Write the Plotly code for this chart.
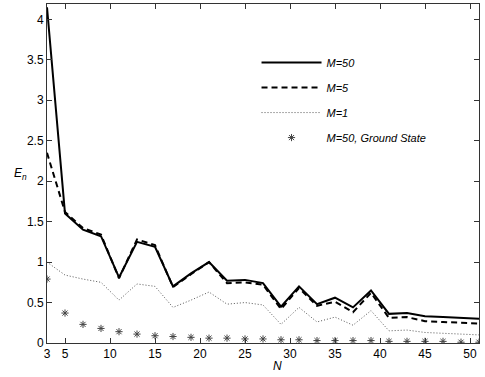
import plotly.graph_objects as go

N = [3, 5, 7, 9, 11, 13, 15, 17, 19, 21, 23, 25, 27, 29, 31, 33, 35, 37, 39, 41, 43, 45, 47, 49, 51]

E_M50 = [4.15, 1.60, 1.40, 1.32, 0.81, 1.25, 1.19, 0.70, 0.86, 1.00, 0.77, 0.78, 0.74, 0.45,
         0.70, 0.48, 0.56, 0.44, 0.65, 0.36, 0.37, 0.33, 0.32, 0.31, 0.30]
E_M5 = [2.35, 1.62, 1.42, 1.34, 0.80, 1.28, 1.21, 0.69, 0.85, 1.00, 0.74, 0.75, 0.72, 0.42,
        0.68, 0.46, 0.51, 0.38, 0.62, 0.31, 0.32, 0.27, 0.26, 0.25, 0.24]
E_M1 = [1.00, 0.84, 0.79, 0.75, 0.53, 0.73, 0.70, 0.44, 0.53, 0.63, 0.48, 0.50, 0.47, 0.23,
        0.44, 0.26, 0.32, 0.22, 0.40, 0.15, 0.16, 0.13, 0.12, 0.11, 0.10]
E_ground = [0.79, 0.37, 0.23, 0.18, 0.14, 0.11, 0.09, 0.08, 0.07, 0.06, 0.06, 0.05, 0.05, 0.04,
            0.04, 0.03, 0.03, 0.03, 0.03, 0.02, 0.02, 0.02, 0.02, 0.01, 0.01]

X_TICKS = [3, 5, 10, 15, 20, 25, 30, 35, 40, 45, 50]
Y_TICKS = [0, 0.5, 1, 1.5, 2, 2.5, 3, 3.5, 4]
Y_TICK_TEXT = ['0', '0.5', '1', '1.5', '2', '2.5', '3', '3.5', '4']

FONT = 'Liberation Sans, Arial, sans-serif'

fig = go.Figure()

fig.add_trace(go.Scatter(
    x=N, y=E_M50, name='<i>M=50</i>', mode='lines',
    line={'color': 'black', 'width': 2},
    legendgroup='a',
))
fig.add_trace(go.Scatter(
    x=N, y=E_M5, name='<i>M=5</i>', mode='lines',
    line={'color': 'black', 'width': 2, 'dash': '6px,4px'},
    legendgroup='b',
))
fig.add_trace(go.Scatter(
    x=N, y=E_M1, name='<i>M=1</i>', mode='lines',
    line={'color': '#555555', 'width': 1, 'dash': '1px,2px'},
    legendgroup='c',
))
fig.add_trace(go.Scatter(
    x=N, y=E_ground, name='<i>M=50, Ground State</i>', mode='markers',
    marker={'symbol': 'asterisk-open', 'size': 6, 'color': '#444444',
            'line': {'color': '#444444', 'width': 1}},
    legendgroup='d',
))

axis_common = dict(
    showline=True, linecolor='#333333', linewidth=1, mirror='ticks',
    ticks='inside', ticklen=5, tickcolor='#333333',
    showgrid=False, zeroline=False,
    tickfont={'family': FONT, 'size': 12, 'color': 'black'},
)

fig.update_xaxes(range=[3, 51], tickvals=X_TICKS, **axis_common)
fig.update_yaxes(range=[0, 4.19], tickvals=Y_TICKS, ticktext=Y_TICK_TEXT, **axis_common)

fig.add_annotation(
    text='<i>E<sub>n</sub></i>', xref='paper', yref='paper',
    x=-0.062, y=0.5, showarrow=False, xanchor='center', yanchor='middle',
    font={'family': FONT, 'size': 12, 'color': 'black'},
)
fig.add_annotation(
    text='<i>N</i>', xref='paper', yref='paper',
    x=0.533, y=-0.04, showarrow=False, xanchor='center', yanchor='top',
    font={'family': FONT, 'size': 12, 'color': 'black'},
)

fig.update_layout(
    width=485,
    height=377,
    plot_bgcolor='white',
    paper_bgcolor='white',
    margin={'l': 47, 'r': 6, 't': 4, 'b': 34},
    showlegend=True,
    legend={
        'x': 0.485, 'y': 0.87, 'xanchor': 'left', 'yanchor': 'top',
        'bgcolor': 'rgba(0,0,0,0)', 'borderwidth': 0,
        'font': {'family': FONT, 'size': 11, 'color': 'black'},
        'itemwidth': 60, 'tracegroupgap': 6, 'traceorder': 'grouped',
    },
    font={'family': FONT},
)

fig.write_html('out.html', config={'displayModeBar': False},
               post_script="document.body.style.margin='0';")
